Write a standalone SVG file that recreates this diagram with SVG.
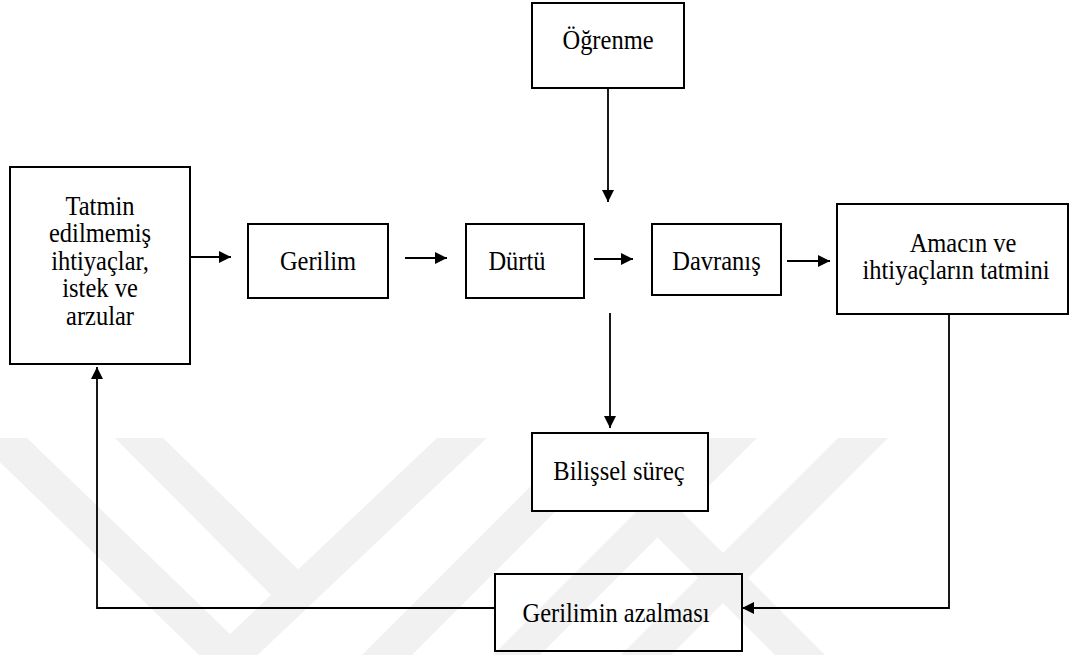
<svg xmlns="http://www.w3.org/2000/svg" width="1072" height="655" viewBox="0 0 1072 655">
<style>
  .box{fill:none;stroke:#000;stroke-width:2}
  .wbox{fill:#fff;stroke:#000;stroke-width:2}
  .t{font-family:"Liberation Serif","Times New Roman",serif;font-size:24.5px;fill:#000;text-anchor:middle}
  .c{fill:none;stroke:#000;stroke-width:1.8}
  .wm{fill:#f1f1f1}
</style>
<defs>
  <marker id="ah" viewBox="0 0 12 12" refX="12" refY="6" markerWidth="13" markerHeight="12" markerUnits="userSpaceOnUse" orient="auto">
    <path d="M0,0 L12,6 L0,12 z" fill="#000"/>
  </marker>
</defs>
<rect width="1072" height="655" fill="#fff"/>
<g id="watermark">
  <polygon class="wm" points="-25,438 27,438 230,634 437,438 487,438 228,683"/>
  <polygon class="wm" points="115,438 163,438 305,576 276,600"/>
  <polygon class="wm" points="579,438 629,438 367,700 317,700"/>
  <polygon class="wm" points="710,438 757,438 495,700 448,700"/>
  <polygon class="wm" points="838,438 888,438 626,700 576,700"/>
  <polygon class="wm" points="645,525 670,500 870,700 820,700"/>
</g>
<g id="connectors">
  <line class="c" x1="190" y1="257" x2="231" y2="257" marker-end="url(#ah)"/>
  <line class="c" x1="405" y1="258" x2="447" y2="258" marker-end="url(#ah)"/>
  <line class="c" x1="594" y1="259" x2="633" y2="259" marker-end="url(#ah)"/>
  <line class="c" x1="787" y1="261" x2="830" y2="261" marker-end="url(#ah)"/>
  <line class="c" x1="608" y1="88" x2="608" y2="202" marker-end="url(#ah)"/>
  <line class="c" x1="610" y1="313" x2="610" y2="428" marker-end="url(#ah)"/>
  <polyline class="c" points="949,313 949,608 742,608" marker-end="url(#ah)"/>
  <polyline class="c" points="495,608 97,608 97,367" marker-end="url(#ah)"/>
</g>
<g id="n-tatmin">
  <rect class="box" x="10" y="167" width="180" height="197"/>
  <text class="t" transform="matrix(1 0 0 1.15 100 215)">Tatmin</text>
  <text class="t" transform="matrix(1 0 0 1.15 100 242)">edilmemiş</text>
  <text class="t" transform="matrix(1 0 0 1.15 100 270)">ihtiyaçlar,</text>
  <text class="t" transform="matrix(1 0 0 1.15 100 297)">istek ve</text>
  <text class="t" transform="matrix(1 0 0 1.15 100 325)">arzular</text>
</g>
<g id="n-gerilim">
  <rect class="box" x="248" y="224" width="140" height="74"/>
  <text class="t" transform="matrix(1 0 0 1.15 318 270)">Gerilim</text>
</g>
<g id="n-durtu">
  <rect class="box" x="466" y="224" width="118" height="74"/>
  <text class="t" transform="matrix(1 0 0 1.15 517 270)">Dürtü</text>
</g>
<g id="n-davranis">
  <rect class="box" x="652" y="224" width="129" height="71"/>
  <text class="t" transform="matrix(1 0 0 1.15 716.5 270)">Davranış</text>
</g>
<g id="n-ogrenme">
  <rect class="box" x="532" y="3" width="152" height="85"/>
  <text class="t" transform="matrix(1 0 0 1.15 608 49)">Öğrenme</text>
</g>
<g id="n-amacin">
  <rect class="box" x="837" y="204" width="231" height="110"/>
  <text class="t" transform="matrix(1 0 0 1.15 963 252)">Amacın ve</text>
  <text class="t" transform="matrix(1 0 0 1.15 956 279)">ihtiyaçların tatmini</text>
</g>
<g id="n-bilissel">
  <rect class="wbox" x="532" y="433" width="176" height="78"/>
  <text class="t" transform="matrix(1 0 0 1.15 619 480)">Bilişsel süreç</text>
</g>
<g id="n-azalma">
  <rect class="box" x="495" y="574" width="247" height="77"/>
  <text class="t" transform="matrix(1 0 0 1.15 616 622)">Gerilimin azalması</text>
</g>
</svg>
